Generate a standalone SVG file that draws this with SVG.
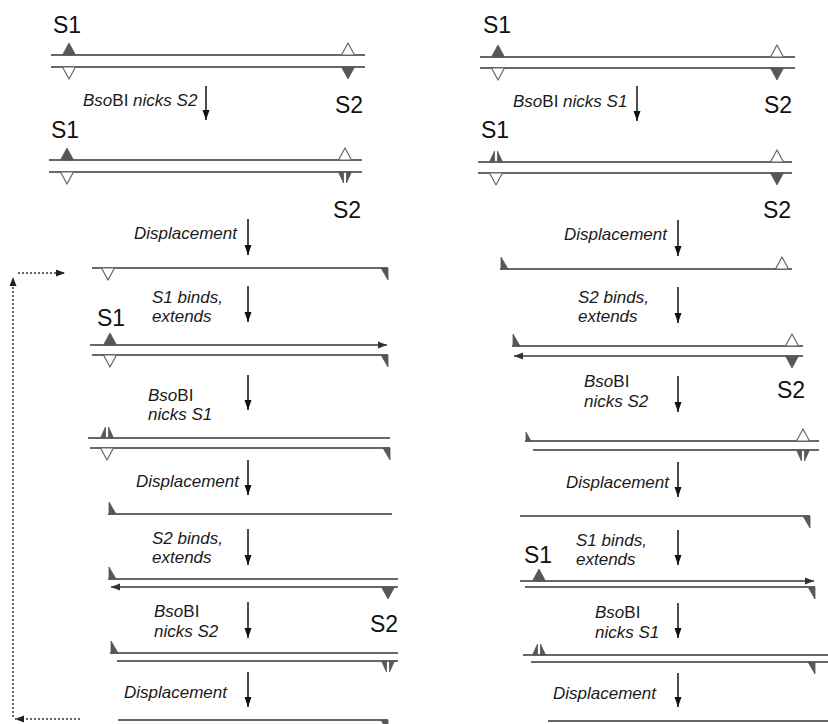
<svg xmlns="http://www.w3.org/2000/svg" width="828" height="724" viewBox="0 0 828 724">
<defs>
<marker id="va" markerUnits="userSpaceOnUse" markerWidth="10" markerHeight="12" refX="5" refY="11" orient="0" viewBox="0 0 10 12">
<path d="M1.5,1 L5,11 L8.5,1 Z" fill="#111"/>
</marker>
<marker id="sa" markerUnits="userSpaceOnUse" markerWidth="10" markerHeight="8" refX="9" refY="4" orient="auto-start-reverse" viewBox="0 0 10 8">
<path d="M0,0.5 L9,4 L0,7.5 Z" fill="#333"/>
</marker>
<marker id="da" markerUnits="userSpaceOnUse" markerWidth="10" markerHeight="8" refX="9" refY="4" orient="auto-start-reverse" viewBox="0 0 10 8">
<path d="M0,0.5 L9,4 L0,7.5 Z" fill="#222"/>
</marker>
</defs>
<style>
.st{stroke:#686868;stroke-width:2;fill:none}
.tf{fill:#575757;stroke:#575757;stroke-width:0.8;stroke-linejoin:round}
.to{fill:#fff;stroke:#666;stroke-width:1.2;stroke-linejoin:round}
.lbl{font-family:"Liberation Sans",Arial,sans-serif;font-size:23px;fill:#111}
.it{font-family:"Liberation Sans",Arial,sans-serif;font-style:italic;font-size:17px;fill:#1a1a1a}
.rm{font-style:normal}
.arr{stroke:#111;stroke-width:1.5;fill:none;marker-end:url(#va)}
.dot{stroke:#333;stroke-width:1.5;fill:none;stroke-dasharray:2 2}
</style>
<rect width="828" height="724" fill="#fff"/>

<!-- LEFT COLUMN -->
<g id="L1">
<text class="lbl" x="53" y="33">S1</text>
<line class="st" x1="51" y1="55" x2="365" y2="55"/>
<line class="st" x1="51" y1="67" x2="365" y2="67"/>
<polygon class="tf" points="62.5,55 69,43 75.5,55"/>
<polygon class="to" points="62.5,67 69,79 75.5,67"/>
<polygon class="to" points="341.5,55 348,43 354.5,55"/>
<polygon class="tf" points="341.5,67 348,79 354.5,67"/>
<text class="lbl" x="335" y="113">S2</text>
</g>
<g id="L2">
<text class="lbl" x="51" y="138">S1</text>
<line class="st" x1="49" y1="160" x2="362" y2="160"/>
<line class="st" x1="49" y1="172" x2="362" y2="172"/>
<polygon class="tf" points="60.5,160 67,148 73.5,160"/>
<polygon class="to" points="60.5,172 67,184 73.5,172"/>
<polygon class="to" points="338.5,160 345,148 351.5,160"/>
<polygon class="tf" points="338.5,172 343.5,183 343.5,172"/>
<polygon class="tf" points="346.5,172 346.5,183 351.5,172"/>
<text class="lbl" x="333" y="218">S2</text>
</g>
<g id="L3">
<line class="st" x1="92" y1="268" x2="388" y2="268"/>
<polygon class="to" points="101.5,268 108,280 114.5,268"/>
<polygon class="tf" points="381,268 388,268 388,280"/>
</g>
<g id="L4">
<text class="lbl" x="97" y="326">S1</text>
<line class="st" x1="90" y1="345" x2="387" y2="345" marker-end="url(#sa)"/>
<line class="st" x1="92" y1="355" x2="388" y2="355"/>
<polygon class="tf" points="103.5,345 110,333 116.5,345"/>
<polygon class="to" points="103.5,355 110,367 116.5,355"/>
<polygon class="tf" points="381,355 388,355 388,367"/>
</g>
<g id="L5">
<line class="st" x1="88" y1="438" x2="390" y2="438"/>
<line class="st" x1="90" y1="448" x2="390" y2="448"/>
<polygon class="tf" points="100.5,438 105.5,427 105.5,438"/>
<polygon class="tf" points="108.5,438 108.5,427 113.5,438"/>
<polygon class="to" points="100.5,448 107,460 113.5,448"/>
<polygon class="tf" points="383,448 390,448 390,460"/>
</g>
<g id="L6">
<line class="st" x1="108" y1="514" x2="392" y2="514"/>
<polygon class="tf" points="109,514 109,502 116,514"/>
</g>
<g id="L7">
<line class="st" x1="108" y1="579" x2="398" y2="579"/>
<line class="st" x1="111" y1="587" x2="398" y2="587" marker-start="url(#sa)"/>
<polygon class="tf" points="109,579 109,567 116,579"/>
<polygon class="tf" points="381.5,587 388,599 394.5,587"/>
<text class="lbl" x="370" y="632">S2</text>
</g>
<g id="L8">
<line class="st" x1="110" y1="653" x2="398" y2="653"/>
<line class="st" x1="117" y1="661" x2="398" y2="661"/>
<polygon class="tf" points="111,653 111,641 118,653"/>
<polygon class="tf" points="381.5,661 386.5,672 386.5,661"/>
<polygon class="tf" points="389.5,661 389.5,672 394.5,661"/>
</g>
<g id="L9">
<line class="st" x1="118" y1="720" x2="388" y2="720"/>
<polygon class="tf" points="381,720 388,720 388,732"/>
</g>

<!-- RIGHT COLUMN -->
<g id="R1">
<text class="lbl" x="483" y="33">S1</text>
<line class="st" x1="480" y1="57" x2="795" y2="57"/>
<line class="st" x1="480" y1="68" x2="795" y2="68"/>
<polygon class="tf" points="491.5,57 498,45 504.5,57"/>
<polygon class="to" points="491.5,68 498,80 504.5,68"/>
<polygon class="to" points="770.5,57 777,45 783.5,57"/>
<polygon class="tf" points="770.5,68 777,80 783.5,68"/>
<text class="lbl" x="764" y="113">S2</text>
</g>
<g id="R2">
<text class="lbl" x="481" y="138">S1</text>
<line class="st" x1="478" y1="162" x2="792" y2="162"/>
<line class="st" x1="478" y1="173" x2="792" y2="173"/>
<polygon class="tf" points="489.5,162 494.5,151 494.5,162"/>
<polygon class="tf" points="497.5,162 497.5,151 502.5,162"/>
<polygon class="to" points="489.5,173 496,185 502.5,173"/>
<polygon class="to" points="770.5,162 777,150 783.5,162"/>
<polygon class="tf" points="770.5,173 777,185 783.5,173"/>
<text class="lbl" x="763" y="218">S2</text>
</g>
<g id="R3">
<line class="st" x1="500" y1="269" x2="792" y2="269"/>
<polygon class="tf" points="501,269 501,257 508,269"/>
<polygon class="to" points="775.5,269 782,257 788.5,269"/>
</g>
<g id="R4">
<line class="st" x1="512" y1="346" x2="803" y2="346"/>
<line class="st" x1="514" y1="356" x2="803" y2="356" marker-start="url(#sa)"/>
<polygon class="tf" points="513,346 513,334 520,346"/>
<polygon class="to" points="785.5,346 792,334 798.5,346"/>
<polygon class="tf" points="785.5,356 792,368 798.5,356"/>
<text class="lbl" x="777" y="398">S2</text>
</g>
<g id="R5">
<line class="st" x1="525" y1="441" x2="819" y2="441"/>
<line class="st" x1="533" y1="450" x2="819" y2="450"/>
<polygon class="tf" points="526,441 526,432 531,441"/>
<polygon class="to" points="796.5,441 803,429 809.5,441"/>
<polygon class="tf" points="796.5,450 801.5,461 801.5,450"/>
<polygon class="tf" points="804.5,450 804.5,461 809.5,450"/>
</g>
<g id="R6">
<line class="st" x1="520" y1="516" x2="810" y2="516"/>
<polygon class="tf" points="803,516 810,516 810,528"/>
</g>
<g id="R7">
<text class="lbl" x="524" y="563">S1</text>
<line class="st" x1="520" y1="581" x2="814" y2="581" marker-end="url(#sa)"/>
<line class="st" x1="525" y1="587" x2="815" y2="587"/>
<polygon class="tf" points="532.5,581 539,569 545.5,581"/>
<polygon class="tf" points="808,587 815,587 815,599"/>
</g>
<g id="R8">
<line class="st" x1="523" y1="655" x2="828" y2="655"/>
<line class="st" x1="531" y1="662" x2="828" y2="662"/>
<polygon class="tf" points="532.5,655 537.5,644 537.5,655"/>
<polygon class="tf" points="540.5,655 540.5,644 545.5,655"/>
<polygon class="tf" points="808,662 815,662 815,674"/>
</g>
<g id="R9">
<line class="st" x1="548" y1="721" x2="828" y2="721"/>
</g>

<!-- step labels -->
<g id="labels">
<text class="it" x="83" y="106">Bso<tspan class="rm">BI</tspan> nicks S2</text>
<text class="it" x="134" y="239">Displacement</text>
<text class="it" x="152" y="303">S1 binds,</text>
<text class="it" x="152" y="322">extends</text>
<text class="it" x="148" y="401">Bso<tspan class="rm">BI</tspan></text>
<text class="it" x="148" y="420">nicks S1</text>
<text class="it" x="136" y="487">Displacement</text>
<text class="it" x="152" y="544">S2 binds,</text>
<text class="it" x="152" y="563">extends</text>
<text class="it" x="154" y="617">Bso<tspan class="rm">BI</tspan></text>
<text class="it" x="154" y="637">nicks S2</text>
<text class="it" x="124" y="698">Displacement</text>

<text class="it" x="513" y="107">Bso<tspan class="rm">BI</tspan> nicks S1</text>
<text class="it" x="564" y="240">Displacement</text>
<text class="it" x="578" y="303">S2 binds,</text>
<text class="it" x="578" y="322">extends</text>
<text class="it" x="584" y="387">Bso<tspan class="rm">BI</tspan></text>
<text class="it" x="584" y="407">nicks S2</text>
<text class="it" x="566" y="488">Displacement</text>
<text class="it" x="576" y="546">S1 binds,</text>
<text class="it" x="576" y="565">extends</text>
<text class="it" x="595" y="618">Bso<tspan class="rm">BI</tspan></text>
<text class="it" x="595" y="638">nicks S1</text>
<text class="it" x="553" y="699">Displacement</text>
</g>

<!-- connectors -->
<g id="connectors">
<line class="arr" x1="206" y1="86" x2="206" y2="120"/>
<line class="arr" x1="248" y1="219" x2="248" y2="255"/>
<line class="arr" x1="248" y1="286" x2="248" y2="322"/>
<line class="arr" x1="248" y1="375" x2="248" y2="410"/>
<line class="arr" x1="248" y1="460" x2="248" y2="495"/>
<line class="arr" x1="248" y1="529" x2="248" y2="565"/>
<line class="arr" x1="248" y1="602" x2="248" y2="638"/>
<line class="arr" x1="248" y1="672" x2="248" y2="707"/>

<line class="arr" x1="637" y1="86" x2="637" y2="121"/>
<line class="arr" x1="678" y1="220" x2="678" y2="256"/>
<line class="arr" x1="678" y1="287" x2="678" y2="323"/>
<line class="arr" x1="678" y1="376" x2="678" y2="412"/>
<line class="arr" x1="678" y1="462" x2="678" y2="497"/>
<line class="arr" x1="678" y1="530" x2="678" y2="565"/>
<line class="arr" x1="678" y1="603" x2="678" y2="638"/>
<line class="arr" x1="678" y1="673" x2="678" y2="707"/>

<line class="dot" x1="13" y1="717" x2="13" y2="277" marker-end="url(#da)"/>
<line class="dot" x1="18" y1="273" x2="65" y2="273" marker-end="url(#da)"/>
<line class="dot" x1="80" y1="719" x2="15" y2="719" marker-end="url(#da)"/>
</g>
</svg>
